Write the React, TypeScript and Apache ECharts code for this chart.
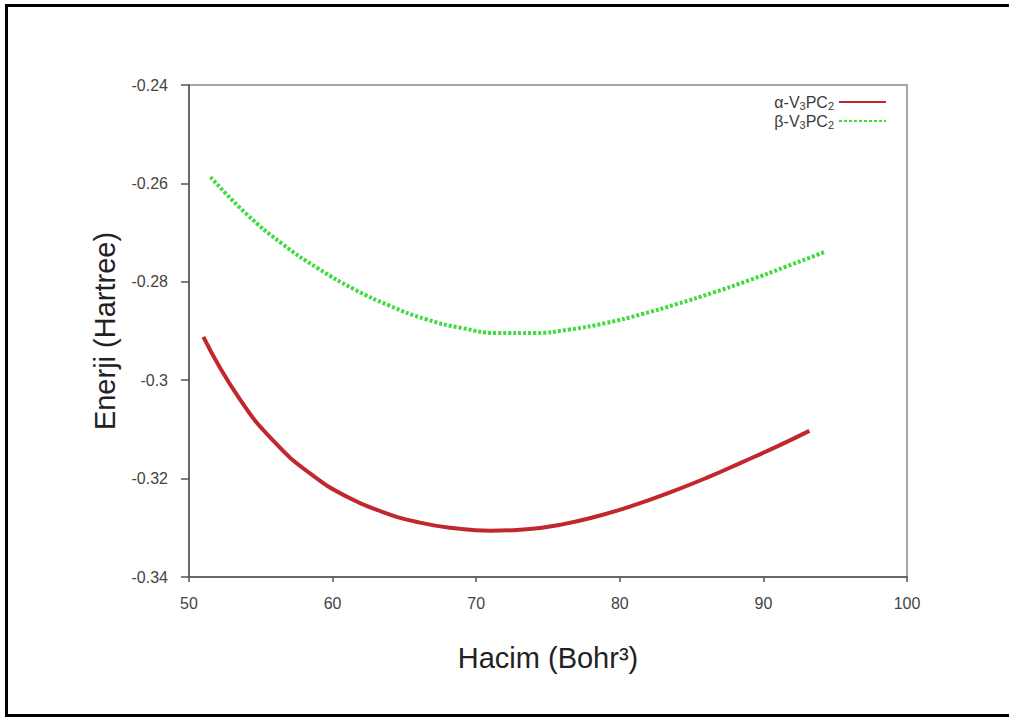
import React, { useEffect, useRef } from "react";
import * as echarts from "echarts";

const alphaVolumes = [51, 53.5, 56, 58.5, 61, 63.5, 66, 68.5, 71, 73.5, 76, 78.5, 81, 83.5, 86, 88.5, 91, 93.2];
const alphaEnergy = [-0.2912, -0.3037, -0.3127, -0.3191, -0.3237, -0.3268, -0.3289, -0.3301, -0.3306, -0.3303, -0.3293, -0.3276, -0.3254, -0.3228, -0.3199, -0.3167, -0.3134, -0.3103];

const betaVolumes = [51.5, 54, 56.5, 59, 61.5, 64, 66.5, 69, 71.5, 74, 76.5, 79, 81.5, 84, 86.5, 89, 91.5, 94.3];
const betaEnergy = [-0.2587, -0.2662, -0.2723, -0.2773, -0.2815, -0.2849, -0.2876, -0.2894, -0.2904, -0.2904, -0.2897, -0.2884, -0.2866, -0.2845, -0.2822, -0.2797, -0.2770, -0.2739];

const seriesNames = ["alpha", "beta"];
const legendLabels: Record<string, string> = {
  alpha: "{n|α-V}{s|3}{n|PC}{s|2}",
  beta: "{n|β-V}{s|3}{n|PC}{s|2}",
};

const xTitle = "Hacim (Bohr³)";
const yTitle = "Enerji (Hartree)";

export default function App() {
  const ref = useRef<HTMLDivElement>(null);
  useEffect(() => {
    if (!ref.current) return;
    const chart = echarts.init(ref.current, undefined, { renderer: "svg" });
    const font = "Liberation Sans, Arial, sans-serif";
    chart.setOption({
      animation: false,
      backgroundColor: "#ffffff",
      textStyle: { fontFamily: font },
      grid: {
        left: 189,
        top: 85,
        width: 718,
        height: 492,
        show: true,
        borderColor: "#8a8a8a",
        borderWidth: 1.5,
        containLabel: false,
      },
      legend: {
        orient: "vertical",
        right: 117,
        top: 88,
        align: "right",
        itemWidth: 47,
        itemHeight: 10,
        itemGap: 1,
        padding: 5,
        data: seriesNames,
        itemStyle: { opacity: 0 },
        formatter: (name: string) => legendLabels[name],
        textStyle: {
          color: "#333",
          rich: {
            n: { fontSize: 16, lineHeight: 16, fontFamily: font, color: "#3a3a3a" },
            s: { fontSize: 11, lineHeight: 11, fontFamily: font, color: "#3a3a3a", padding: [7, 0, 0, 0] },
          },
        },
      },
      xAxis: {
        type: "value",
        min: 50,
        max: 100,
        interval: 10,
        name: xTitle,
        nameLocation: "middle",
        nameGap: 66,
        nameTextStyle: { fontSize: 29, color: "#222", fontFamily: font },
        axisLine: { show: true, lineStyle: { color: "#555", width: 1.5 } },
        axisTick: { show: true, length: 5, lineStyle: { color: "#555", width: 1.5 } },
        axisLabel: { fontSize: 16, color: "#444", margin: 18, fontFamily: font },
        splitLine: { show: false },
      },
      yAxis: {
        type: "value",
        min: -0.34,
        max: -0.24,
        interval: 0.02,
        name: yTitle,
        nameLocation: "middle",
        nameGap: 70,
        nameRotate: 90,
        nameTextStyle: { fontSize: 29, color: "#222", fontFamily: font },
        axisLine: { show: true, lineStyle: { color: "#555", width: 1.5 } },
        axisTick: { show: true, length: 8, lineStyle: { color: "#555", width: 1.5 } },
        axisLabel: {
          fontSize: 16,
          color: "#444",
          margin: 21,
          fontFamily: font,
          formatter: (v: number) => String(Number(v.toFixed(2))),
        },
        splitLine: { show: false },
      },
      graphic: [
        {
          type: "rect",
          shape: { x: 6.5, y: 5.5, width: 1020, height: 710 },
          style: { fill: "none", stroke: "#000", lineWidth: 3 },
          silent: true,
        },
      ],
      series: [
        {
          name: "alpha",
          type: "line",
          smooth: true,
          showSymbol: false,
          symbol: "none",
          data: alphaVolumes.map((v, i) => [v, alphaEnergy[i]]),
          lineStyle: { color: "#c0282d", width: 4, type: "solid" },
          itemStyle: { color: "#c0282d" },
        },
        {
          name: "beta",
          type: "line",
          smooth: true,
          showSymbol: false,
          symbol: "none",
          data: betaVolumes.map((v, i) => [v, betaEnergy[i]]),
          lineStyle: { color: "#3fdc3f", width: 4, type: [3, 2] },
          itemStyle: { color: "#3fdc3f" },
        },
      ],
    });
    return () => chart.dispose();
  }, []);
  return (
    <div
      ref={ref}
      style={{ position: "fixed", left: 0, top: 0, width: 1009, height: 722, background: "#fff" }}
    />
  );
}
